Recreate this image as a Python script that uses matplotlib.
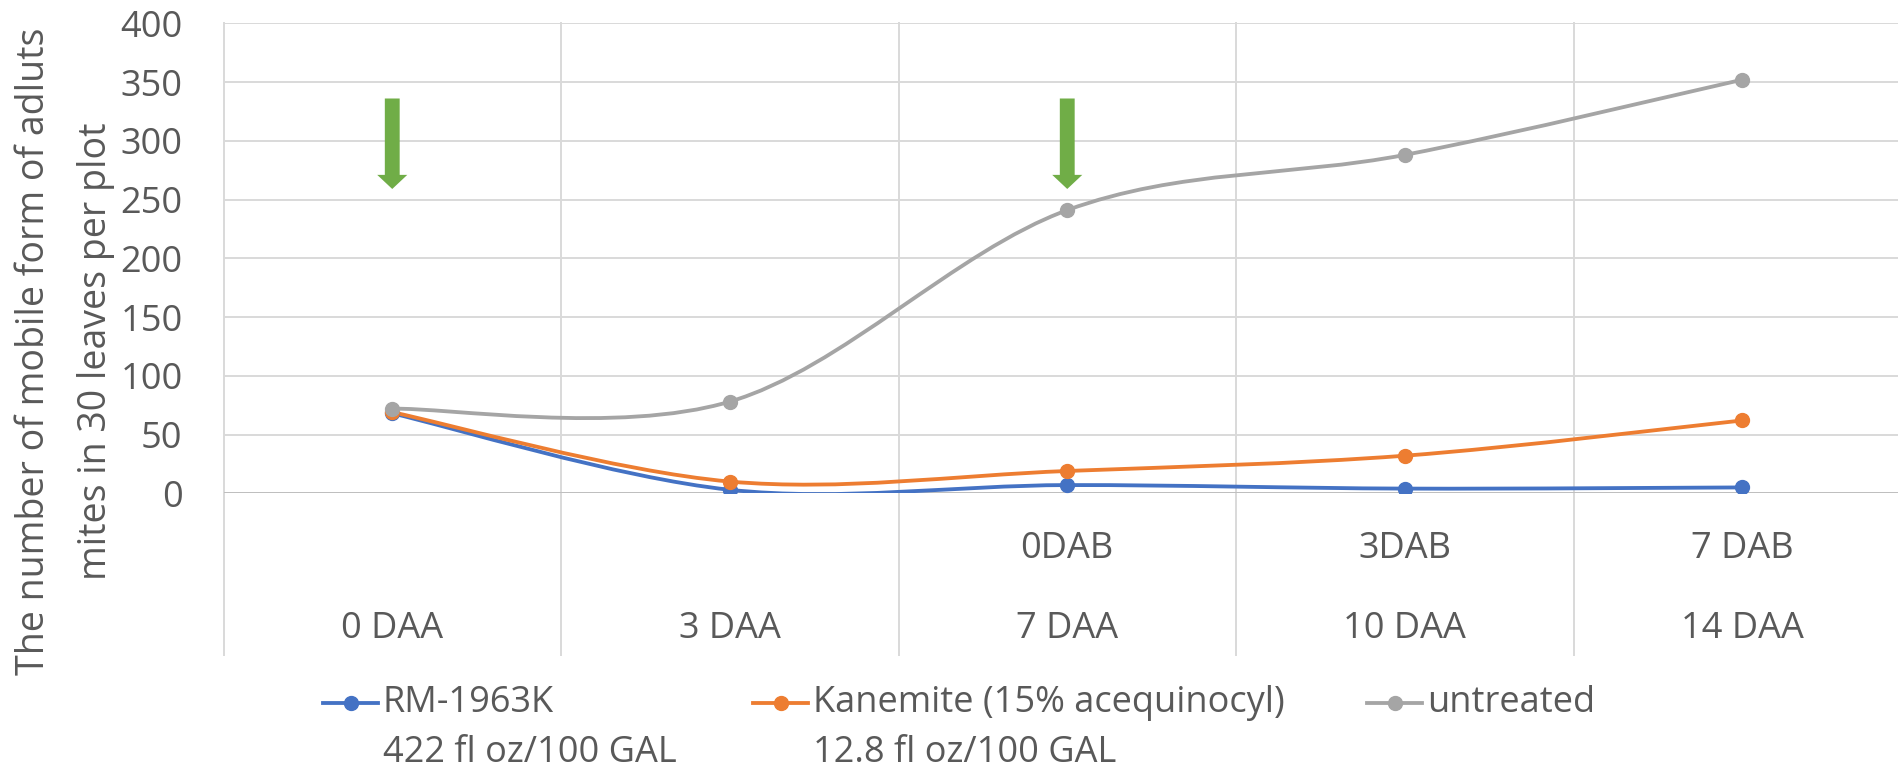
import matplotlib
matplotlib.use("Agg")
import matplotlib.pyplot as plt
from matplotlib.path import Path
from matplotlib.patches import PathPatch
from matplotlib.lines import Line2D

# data
days = ["0 DAA", "3 DAA", "7 DAA", "10 DAA", "14 DAA"]
days_b = ["", "", "0DAB", "3DAB", "7 DAB"]
rm1963k = [68, 3, 7, 4, 5]
kanemite = [69, 10, 19, 32, 62]
untreated = [72, 78, 241, 288, 352]
series_names = ["RM-1963K", "Kanemite (15% acequinocyl)", "untreated"]
series_doses = ["422 fl oz/100 GAL", "12.8 fl oz/100 GAL", ""]
spray_days = [0, 2]  # green arrows: applications

colors = ["#4472C4", "#ED7D31", "#A5A5A5"]
txt = "#595959"
W, H = 1898, 773

plt.rcParams["font.family"] = ["Open Sans", "DejaVu Sans"]
plt.rcParams["font.size"] = 26

fig = plt.figure(figsize=(W / 100, H / 100), dpi=100)
ax = fig.add_axes([223.5 / W, (H - 493.3) / H, 1687.5 / W, 470 / H])


def smooth_path(xs, ys):
    # Excel-like smoothed line (Catmull-Rom as cubic Bezier)
    n = len(xs)
    verts = [(xs[0], ys[0])]
    codes = [Path.MOVETO]
    for i in range(n - 1):
        i0, i3 = max(i - 1, 0), min(i + 2, n - 1)
        c1 = (xs[i] + (xs[i + 1] - xs[i0]) / 6, ys[i] + (ys[i + 1] - ys[i0]) / 6)
        c2 = (xs[i + 1] - (xs[i3] - xs[i]) / 6, ys[i + 1] - (ys[i3] - ys[i]) / 6)
        verts += [c1, c2, (xs[i + 1], ys[i + 1])]
        codes += [Path.CURVE4] * 3
    return Path(verts, codes)


x = list(range(len(days)))
for vals, c in zip([rm1963k, kanemite, untreated], colors):
    ax.add_patch(PathPatch(smooth_path(x, vals), fill=False, edgecolor=c,
                           lw=2.75, capstyle="round", joinstyle="round", zorder=3))
    ax.plot(x, vals, "o", color=c, ms=10, zorder=4)

for d in spray_days:
    ax.arrow(d, 336, 0, -77, width=0.044, head_width=0.089, head_length=12,
             length_includes_head=True, color="#70AD47", lw=0, zorder=5)

ax.set_xlim(-0.5, len(days) - 0.5)
ax.set_ylim(0, 400)
ax.set_yticks(range(0, 401, 50))
ax.set_xticks([])
ax.tick_params(axis="y", length=0, pad=29.5, colors=txt, labelsize=26)
for s in ax.spines.values():
    s.set_visible(False)
ax.yaxis.grid(True, color="#D9D9D9", lw=1.4)
ax.set_axisbelow(True)
ax.axhline(0, color="#BFBFBF", lw=1.4, zorder=2)

# category dividers running down through the label area
for b in range(len(days) + 1):
    ax.axvline(b - 0.5, ymin=-(655 - 493.3) / 470, ymax=1, color="#D9D9D9",
               lw=1.4, clip_on=False, zorder=1)

tr = ax.get_xaxis_transform()
for i, (a, b) in enumerate(zip(days, days_b)):
    ax.text(i, -(629 - 493.3) / 470, a, transform=tr, ha="center", va="center",
            color=txt, fontsize=26)
    if b:
        ax.text(i, -(549 - 493.3) / 470, b, transform=tr, ha="center", va="center",
                color=txt, fontsize=26)

fig.text(65 / W, 1 - 351.5 / H,
         "The number of mobile form of adluts\nmites in 30 leaves per plot",
         rotation=90, ha="center", va="center", multialignment="center",
         color=txt, fontsize=27, linespacing=1.82)

# legend, drawn by hand to get the two-line entries
hx = [323, 753, 1367]
for x0, c, name, dose in zip(hx, colors, series_names, series_doses):
    fig.add_artist(Line2D([x0 / W, (x0 + 55) / W], [1 - 703 / H] * 2, color=c,
                          lw=2.75, transform=fig.transFigure))
    fig.add_artist(Line2D([(x0 + 28) / W], [1 - 703 / H], marker="o", ms=10,
                          color=c, transform=fig.transFigure))
    fig.text((x0 + 60) / W, 1 - 703 / H, name, ha="left", va="center",
             color=txt, fontsize=26)
    if dose:
        fig.text((x0 + 60) / W, 1 - 753 / H, dose, ha="left", va="center",
                 color=txt, fontsize=26)

fig.savefig("out.png", dpi=100)
